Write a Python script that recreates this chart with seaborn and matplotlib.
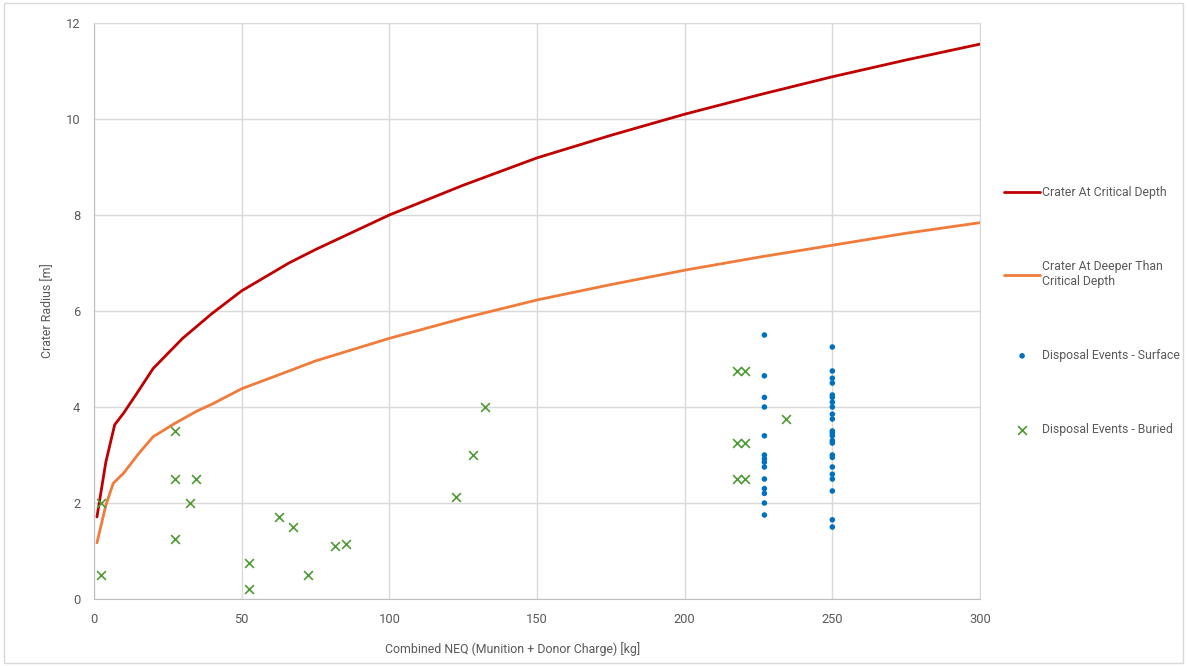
import matplotlib
matplotlib.use("Agg")
import matplotlib.pyplot as plt
import seaborn as sns
from matplotlib.patches import Rectangle

sns.set_style("white")
plt.rcParams["font.family"] = ["Roboto", "DejaVu Sans"]

# curve readings
crit_x = [1, 4, 7, 10, 15, 20, 30, 40, 50, 66, 75, 100, 125, 150, 175, 200, 225, 250, 275, 300]
crit_y = [1.71, 2.85, 3.63, 3.87, 4.33, 4.8, 5.43, 5.95, 6.42, 7.0, 7.28, 8.0, 8.62,
          9.19, 9.66, 10.1, 10.5, 10.88, 11.23, 11.56]
deep_x = [1, 4, 6.5, 10, 15, 20, 27.4, 35, 40, 50, 66, 75, 100, 125, 150, 175, 200, 225, 250, 275, 300]
deep_y = [1.17, 1.95, 2.41, 2.62, 3.02, 3.38, 3.66, 3.92, 4.06, 4.38, 4.75, 4.96, 5.43,
          5.85, 6.23, 6.55, 6.85, 7.12, 7.37, 7.62, 7.84]

# disposal events - surface
surf_x = [227] * 14 + [250] * 23
surf_y = [5.5, 4.65, 4.2, 4.0, 3.4, 3.0, 2.92, 2.85, 2.75, 2.5, 2.3, 2.2, 2.0, 1.75,
          5.25, 4.75, 4.6, 4.5, 4.25, 4.2, 4.1, 4.0, 3.85, 3.75, 3.5, 3.45, 3.4,
          3.3, 3.25, 3.0, 2.95, 2.75, 2.6, 2.5, 2.25, 1.65, 1.5]

# disposal events - buried
bur_x = [2.4, 2.4, 27.4, 27.4, 34.5, 32.5, 27.4, 52.5, 52.5, 62.6, 67.4, 72.5,
         81.6, 85.3, 132.4, 128.4, 122.5, 217.6, 220.5, 217.6, 220.5, 217.6,
         220.5, 234.3]
bur_y = [2.0, 0.5, 3.5, 2.5, 2.5, 2.0, 1.25, 0.75, 0.2, 1.7, 1.5, 0.5,
         1.1, 1.15, 4.0, 3.0, 2.12, 4.75, 4.75, 3.25, 3.25, 2.5,
         2.5, 3.75]

txt = "#595959"
fig, ax = plt.subplots(figsize=(11.87, 6.66), dpi=100)
fig.subplots_adjust(left=94 / 1187, right=980 / 1187, top=1 - 23 / 666, bottom=1 - 599 / 666)

sns.lineplot(x=crit_x, y=crit_y, ax=ax, color="#C00000", linewidth=2,
             label="Crater At Critical Depth")
sns.lineplot(x=deep_x, y=deep_y, ax=ax, color="#F07B3A", linewidth=2,
             label="Crater At Deeper Than\nCritical Depth")
sns.scatterplot(x=surf_x, y=surf_y, ax=ax, color="#0070C0", s=16, edgecolor="none",
                label="Disposal Events - Surface", zorder=3)
sns.scatterplot(x=bur_x, y=bur_y, ax=ax, color="#4E9A35", marker="x", s=40,
                linewidth=1.2, label="Disposal Events - Buried", zorder=3)

ax.set_xlim(0, 300)
ax.set_ylim(0, 12)
ax.set_xticks(range(0, 301, 50))
ax.set_yticks(range(0, 13, 2))
ax.grid(True, color="#D9D9D9", linewidth=1)
ax.set_axisbelow(True)
for s in ax.spines.values():
    s.set_color("#D9D9D9")
ax.spines["left"].set_color("#BFBFBF")
ax.spines["bottom"].set_color("#BFBFBF")
ax.tick_params(length=0, labelsize=9.3, colors=txt, pad=10)

ax.set_xlabel("Combined NEQ (Munition + Donor Charge) [kg]", fontsize=8.9, color=txt)
ax.xaxis.set_label_coords(0.472, -0.075)
ax.set_ylabel("Crater Radius [m]", fontsize=8.9, color=txt, labelpad=8)

leg = ax.legend(loc="center left", bbox_to_anchor=(1.022, 0.50), frameon=False,
                fontsize=8.8, labelspacing=5.0, handlelength=2.9, handletextpad=0.2,
                labelcolor=txt, borderaxespad=0)

fig.patches.append(Rectangle((0.003, 0.005), 0.994, 0.99, transform=fig.transFigure,
                             fill=False, edgecolor="#D9D9D9", linewidth=1))

plt.savefig("out.png", dpi=100)
